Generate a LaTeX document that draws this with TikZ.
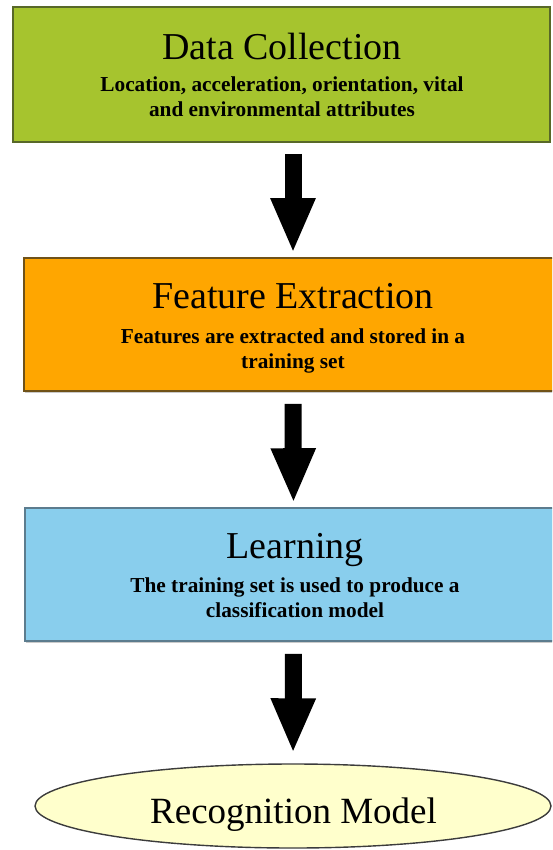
\documentclass[tikz,border=0pt]{standalone}
\usepackage{fontspec}
\setmainfont{Liberation Serif}
\usetikzlibrary{arrows.meta,shapes.geometric,shadows}

\definecolor{collectfill}{RGB}{166,196,46}
\definecolor{collectline}{RGB}{88,104,40}
\definecolor{featurefill}{RGB}{255,166,0}
\definecolor{featureline}{RGB}{112,82,24}
\definecolor{learnfill}{RGB}{137,206,237}
\definecolor{learnline}{RGB}{92,124,142}
\definecolor{modelfill}{RGB}{255,255,204}
\definecolor{modelline}{RGB}{60,60,60}

\tikzset{
  stage/.style={rectangle, line width=1.6pt, inner sep=0pt,
    drop shadow={shadow xshift=1pt, shadow yshift=-1.5pt, fill=black!35, opacity=0.6}},
  stagetitle/.style={anchor=base, inner sep=0pt, font=\fontsize{38}{40}\selectfont},
  % anchored at the baseline of the last line
  stagetext/.style={anchor=base, inner sep=0pt, align=center,
    font=\fontsize{21.3}{25}\selectfont\bfseries},
  fatarrow/.style={line width=17pt, black,
    -{Triangle[width=41pt,length=55pt]}},
}

\begin{document}
\begin{tikzpicture}[x=1pt,y=-1pt]
  \useasboundingbox (0,0) rectangle (552,850);
  \clip (0,0) rectangle (552,850);

  % stage boxes
  \node[stage, fill=collectfill, draw=collectline,
        minimum width=537pt, minimum height=135pt] (collect) at (281.5,74.5) {};
  \node[stage, fill=featurefill, draw=featureline,
        minimum width=538pt, minimum height=133pt] (feature) at (293,324.5) {};
  \node[stage, fill=learnfill, draw=learnline,
        minimum width=537pt, minimum height=133pt] (learn) at (293.5,574.5) {};
  \node[ellipse, fill=modelfill, draw=modelline, line width=1.4pt, inner sep=0pt,
        minimum width=516pt, minimum height=84pt] (model) at (293,806) {};

  % box texts
  \node[stagetitle] (collectT) at (282,60) {Data Collection};
  \node[stagetext]  (collectD) at (282,117) {Location, acceleration, orientation, vital\\and environmental attributes};

  \node[stagetitle] (featureT) at (293,308) {Feature Extraction};
  \node[stagetext]  (featureD) at (293,368) {Features are extracted and stored in a\\training set};

  \node[stagetitle] (learnT) at (295,558) {Learning};
  \node[stagetext]  (learnD) at (295,617) {The training set is used to produce a\\classification model};

  \node[anchor=base, inner sep=0pt, font=\fontsize{37}{40}\selectfont] (modelT) at (293.5,823) {Recognition Model};

  % flow arrows
  \draw[fatarrow, shorten <=11pt, shorten >=4pt] (feature.north |- collect.south) -- (feature.north);
  \draw[fatarrow, shorten <=12pt, shorten >=4pt] (feature.south) -- (learn.north);
  \draw[fatarrow, shorten <=12pt, shorten >=10pt] (learn.south) -- (model.north);
\end{tikzpicture}
\end{document}
